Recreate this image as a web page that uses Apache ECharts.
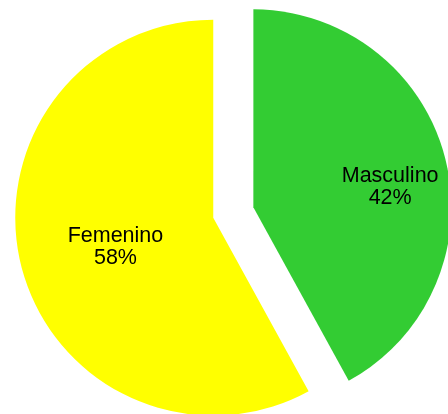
<!DOCTYPE html>
<html>
<head>
<meta charset="utf-8">
<script src="https://cdn.jsdelivr.net/npm/echarts@6/dist/echarts.min.js"></script>
<style>
html,body{margin:0;padding:0;background:#fff;}
#c{width:448px;height:414px;}
</style>
</head>
<body>
<div id="c"></div>
<script>
var categories = ['Masculino', 'Femenino'];
var values = [42, 58];
var colors = ['#33CC33', '#FFFF00'];

var labelShift = [[38, 5], [1, 4]];

var chart = echarts.init(document.getElementById('c'), null, {renderer: 'canvas'});
chart.setOption({
  animation: false,
  backgroundColor: '#ffffff',
  series: [{
    type: 'pie',
    center: [233.3, 212.5],
    radius: [0, 198],
    startAngle: 90,
    clockwise: true,
    selectedMode: 'multiple',
    selectedOffset: 20.7,
    avoidLabelOverlap: false,
    emphasis: {disabled: true},
    itemStyle: {borderWidth: 0},
    label: {
      show: true,
      position: 'inside',
      color: '#000',
      fontFamily: 'Liberation Sans, Arial, sans-serif',
      fontSize: 21.5,
      lineHeight: 22,
      align: 'center',
      formatter: function (p) { return p.name + '\n' + Math.round(p.percent) + '%'; }
    },
    labelLine: {show: false},
    labelLayout: function (p) {
      var s = labelShift[p.dataIndex];
      return {dx: s[0], dy: s[1]};
    },
    data: categories.map(function (c, i) {
      return {name: c, value: values[i], selected: true, itemStyle: {color: colors[i]}};
    })
  }]
});
</script>
</body>
</html>
